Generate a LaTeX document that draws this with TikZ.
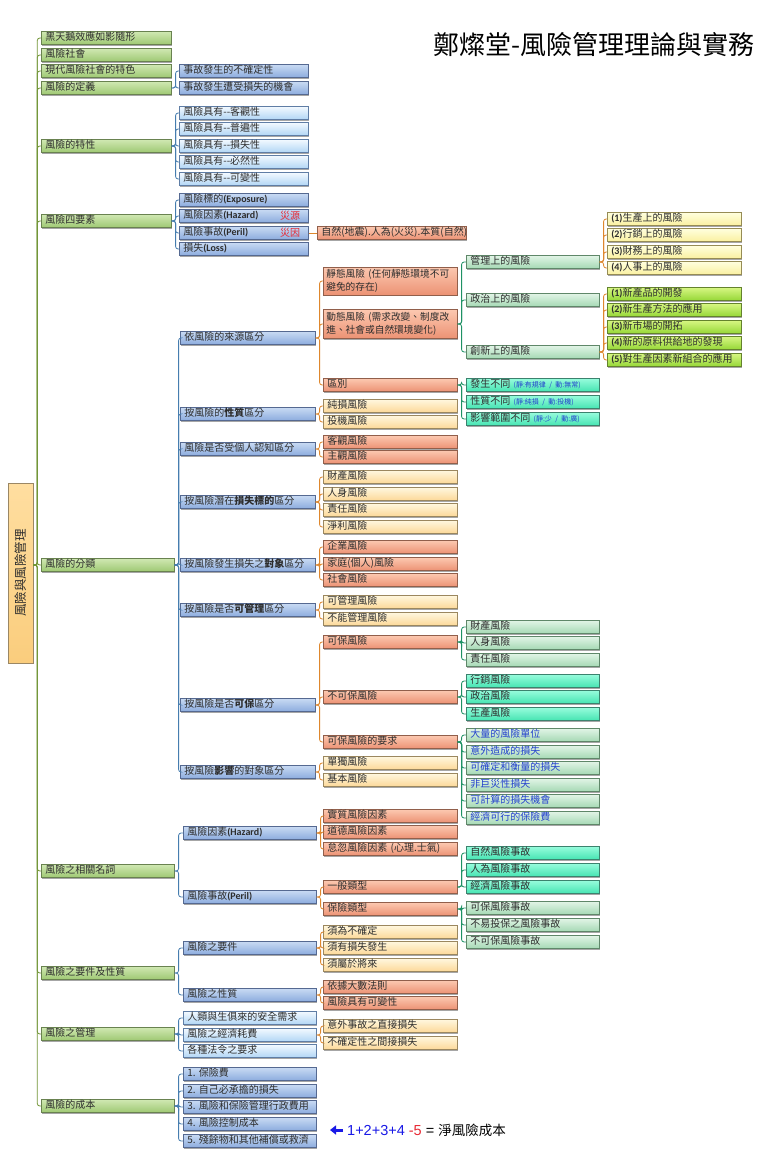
\documentclass[tikz,border=0pt]{standalone}
\usepackage{fontspec}
\usepackage{graphicx}
\setmainfont{Noto Sans CJK TC}
\newfontfamily\lat{Carlito}
\newfontfamily\arl{Liberation Sans}
\usetikzlibrary{shadows,arrows.meta}
\frenchspacing
\definecolor{txt}{RGB}{45,45,45}
\definecolor{gBd}{RGB}{105,130,80}
\definecolor{gT}{RGB}{208,232,178}
\definecolor{gB}{RGB}{158,200,115}
\definecolor{bBd}{RGB}{85,105,145}
\definecolor{bT}{RGB}{200,218,243}
\definecolor{bB}{RGB}{140,172,222}
\definecolor{lbBd}{RGB}{95,125,165}
\definecolor{lbT}{RGB}{242,249,255}
\definecolor{lbB}{RGB}{178,214,245}
\definecolor{sBd}{RGB}{145,95,75}
\definecolor{sT}{RGB}{252,200,176}
\definecolor{sB}{RGB}{236,146,116}
\definecolor{pBd}{RGB}{155,135,95}
\definecolor{pT}{RGB}{255,247,222}
\definecolor{pB}{RGB}{252,216,152}
\definecolor{mBd}{RGB}{95,135,105}
\definecolor{mT}{RGB}{225,244,230}
\definecolor{mB}{RGB}{165,217,180}
\definecolor{yBd}{RGB}{150,140,85}
\definecolor{yT}{RGB}{255,255,222}
\definecolor{yB}{RGB}{250,240,160}
\definecolor{limBd}{RGB}{100,130,45}
\definecolor{limT}{RGB}{214,246,130}
\definecolor{limB}{RGB}{150,215,55}
\definecolor{aBd}{RGB}{60,130,110}
\definecolor{aT}{RGB}{150,252,220}
\definecolor{aB}{RGB}{70,228,178}
\definecolor{rBd}{RGB}{155,135,100}
\definecolor{rT}{RGB}{255,222,160}
\definecolor{rB}{RGB}{250,205,125}
\definecolor{cTr}{RGB}{115,150,55}
\definecolor{cBl}{RGB}{70,125,175}
\definecolor{cOr}{RGB}{222,135,45}
\definecolor{cGr}{RGB}{30,145,100}
\definecolor{blu}{RGB}{35,65,205}
\definecolor{blu2}{RGB}{25,25,230}
\definecolor{redl}{RGB}{232,40,50}
\newcommand\lb[1]{{\lat\bfseries #1}}
\newcommand\sm[1]{{\fontsize{7}{8}\selectfont\color{blu}#1}}
\tikzset{
 bx/.style={rectangle, anchor=west, draw=#1, line width=0.6pt, inner xsep=4pt, inner ysep=0pt,
   minimum height=13pt, text height=7.6pt, text depth=2.4pt, align=left, text=txt,
   font=\fontsize{10}{12}\selectfont,
   drop shadow={shadow xshift=0.9pt, shadow yshift=-1.3pt, opacity=0.35, fill=black}},
 G/.style={bx=gBd, top color=gT, bottom color=gB},
 B/.style={bx=bBd, top color=bT, bottom color=bB},
 LB/.style={bx=lbBd, top color=lbT, bottom color=lbB},
 S/.style={bx=sBd, top color=sT, bottom color=sB},
 P/.style={bx=pBd, top color=pT, bottom color=pB},
 M/.style={bx=mBd, top color=mT, bottom color=mB},
 Y/.style={bx=yBd, top color=yT, bottom color=yB},
 LM/.style={bx=limBd, top color=limT, bottom color=limB},
 A/.style={bx=aBd, top color=aT, bottom color=aB},
 two/.style={text height=, text depth=, minimum height=#1pt, inner ysep=2pt, inner xsep=3pt,
   text width=128pt, font=\fontsize{9.7}{12.5}\selectfont},
 W1/.style={text width=122pt},
 W1b/.style={text width=125pt},
 W2a/.style={text width=121pt},
 W2b/.style={text width=127pt},
 W2c/.style={text width=125pt},
 W3/.style={text width=126pt},
 WN/.style={text width=141pt},
 W4/.style={text width=125pt},
 W5/.style={text width=126pt},
 cn/.style={line width=0.8pt, rounded corners=2.5pt},
}
\newcommand\myfan[3]{\foreach \c in {#3} \draw[cn,#1] (#2.east) -- ++(4,0) |- (\c.west);}
\begin{document}
\begin{tikzpicture}[x=1pt,y=-1pt]
\useasboundingbox (0,0) rectangle (757,1159);
\fill[white] (0,0) rectangle (757,1159);

\node[font=\fontsize{26}{29}\selectfont, anchor=east, text=black, inner sep=0pt] (title) at (755,45) {鄭燦堂-風險管理理論與實務};

\node[rectangle, draw=rBd, line width=0.6pt, top color=rT, bottom color=rB, minimum width=25pt, minimum height=180pt, inner sep=0pt, text=txt,
  drop shadow={shadow xshift=0.9pt, shadow yshift=-1.3pt, opacity=0.35, fill=black}] (root) at (20.5,573) {\rotatebox{90}{\fontsize{12.5}{14}\selectfont 風險與風險管理}};

% level 1
\node[G,W1] (a1) at (41,38) {黑天鵝效應如影隨形};
\node[G,W1] (a2) at (41,55) {風險社會};
\node[G,W1] (a3) at (41,71) {現代風險社會的特色};
\node[G,W1] (a4) at (41,88) {風險的定義};
\node[G,W1] (a5) at (41,146) {風險的特性};
\node[G,W1] (a6) at (41,221) {風險四要素};
\node[G,W1b] (a7) at (41,565) {風險的分類};
\node[G,W1b] (a8) at (41,871) {風險之相關名詞};
\node[G,W1b] (a9) at (41,973) {風險之要件及性質};
\node[G,W1b] (a10) at (41,1034) {風險之管理};
\node[G,W1b] (a11) at (41,1106) {風險的成本};

% definition
\node[B,W2a] (d1) at (179,71) {事故發生的不確定性};
\node[B,W2a] (d2) at (179,88) {事故發生遭受損失的機會};
% characteristics
\node[LB,W2a] (t1) at (179,113) {風險具有-{}-客觀性};
\node[LB,W2a] (t2) at (179,129) {風險具有-{}-普遍性};
\node[LB,W2a] (t3) at (179,146) {風險具有-{}-損失性};
\node[LB,W2a] (t4) at (179,162) {風險具有-{}-必然性};
\node[LB,W2a] (t5) at (179,179) {風險具有-{}-可變性};
% four elements
\node[B,W2a] (f1) at (179,200) {風險標的\lb{(Exposure)}};
\node[B,W2a] (f2) at (179,216) {風險因素\lb{(Hazard)}};
\node[B,W2a] (f3) at (179,233) {風險事故\lb{(Peril)}};
\node[B,W2a] (f4) at (179,249) {損失\lb{(Loss)}};
\node[anchor=west, inner sep=0pt, text=redl, font=\fontsize{10}{12}\selectfont] (zy) at (280,216) {災源};
\node[anchor=west, inner sep=0pt, text=redl, font=\fontsize{10}{12}\selectfont] (zi) at (280,233) {災因};
\node[S,WN] (nat) at (317,233) {自然(地震).人為(火災).本質(自然)};

% classification level 2
\node[B,W2b] (c1) at (180,338) {依風險的來源區分};
\node[B,W2b] (c2) at (180,414) {按風險的\textbf{性質}區分};
\node[B,W2b] (c3) at (180,449) {風險是否受個人認知區分};
\node[B,W2b] (c4) at (180,502) {按風險潛在\textbf{損失標的}區分};
\node[B,W2b] (c5) at (180,565) {按風險發生損失之\textbf{對象}區分};
\node[B,W2b] (c6) at (180,610) {按風險是否\textbf{可管理}區分};
\node[B,W2b] (c7) at (180,705) {按風險是否\textbf{可保}區分};
\node[B,W2b] (c8) at (180,772) {按風險\textbf{影響}的對象區分};

% classification level 3
\node[S,two=28] (s1) at (323,281) {靜態風險 (任何靜態環境不可\\避免的存在)};
\node[S,two=29] (s2) at (323,324) {動態風險 (需求改變、制度改\\進、社會或自然環境變化)};
\node[S,W3] (s3) at (323,385) {區別};
\node[P,W3] (n1) at (323,406) {純損風險};
\node[P,W3] (n2) at (323,422) {投機風險};
\node[S,W3] (p1) at (323,442) {客觀風險};
\node[S,W3] (p2) at (323,457) {主觀風險};
\node[P,W3] (q1) at (323,477) {財產風險};
\node[P,W3] (q2) at (323,494) {人身風險};
\node[P,W3] (q3) at (323,510) {責任風險};
\node[P,W3] (q4) at (323,527) {淨利風險};
\node[S,W3] (r1) at (323,547) {企業風險};
\node[S,W3] (r2) at (323,564) {家庭(個人)風險};
\node[S,W3] (r3) at (323,580) {社會風險};
\node[P,W3] (m1) at (323,602) {可管理風險};
\node[P,W3] (m2) at (323,619) {不能管理風險};
\node[S,W3] (i1) at (323,642) {可保風險};
\node[S,W3] (i2) at (323,697) {不可保風險};
\node[S,W3] (i3) at (323,742) {可保風險的要求};
\node[P,W3] (o1) at (323,763) {單獨風險};
\node[P,W3] (o2) at (323,780) {基本風險};

% level 4
\node[M,W4] (g1) at (466,262) {管理上的風險};
\node[M,W4] (g2) at (466,300) {政治上的風險};
\node[M,W4] (g3) at (466,352) {創新上的風險};
\node[A,W4] (k1) at (466,385) {發生不同 \sm{(靜:有規律 / 動:無常)}};
\node[A,W4] (k2) at (466,402) {性質不同 \sm{(靜:純損 / 動:投機)}};
\node[A,W4] (k3) at (466,419) {影響範圍不同 \sm{(靜:少 / 動:廣)}};
\node[M,W4] (h1) at (466,627) {財產風險};
\node[M,W4] (h2) at (466,643) {人身風險};
\node[M,W4] (h3) at (466,660) {責任風險};
\node[A,W4] (u1) at (466,681) {行銷風險};
\node[A,W4] (u2) at (466,697) {政治風險};
\node[A,W4] (u3) at (466,714) {生產風險};
\node[M,W4,text=blu] (v1) at (466,735) {大量的風險單位};
\node[M,W4,text=blu] (v2) at (466,752) {意外造成的損失};
\node[M,W4,text=blu] (v3) at (466,768) {可確定和衡量的損失};
\node[M,W4,text=blu] (v4) at (466,785) {非巨災性損失};
\node[M,W4,text=blu] (v5) at (466,801) {可計算的損失機會};
\node[M,W4,text=blu] (v6) at (466,818) {經濟可行的保險費};

% level 5
\node[Y,W5] (y1) at (607,219) {\lb{(1)}生產上的風險};
\node[Y,W5] (y2) at (607,235) {\lb{(2)}行銷上的風險};
\node[Y,W5] (y3) at (607,252) {\lb{(3)}財務上的風險};
\node[Y,W5] (y4) at (607,268) {\lb{(4)}人事上的風險};
\node[LM,W5] (z1) at (607,294) {\lb{(1)}新產品的開發};
\node[LM,W5] (z2) at (607,310) {\lb{(2)}新生產方法的應用};
\node[LM,W5] (z3) at (607,327) {\lb{(3)}新市場的開拓};
\node[LM,W5] (z4) at (607,343) {\lb{(4)}新的原料供給地的發現};
\node[LM,W5] (z5) at (607,360) {\lb{(5)}對生產因素新組合的應用};

% related terms
\node[B,W2c] (hh) at (183,833) {風險因素\lb{(Hazard)}};
\node[B,W2c] (pp) at (183,897) {風險事故\lb{(Peril)}};
\node[S,W3] (hz1) at (323,816) {實質風險因素};
\node[S,W3] (hz2) at (323,832) {道德風險因素};
\node[S,W3] (hz3) at (323,849) {怠忽風險因素 (心理.士氣)};
\node[S,W3] (pe1) at (323,887) {一般類型};
\node[S,W3] (pe2) at (323,909) {保險類型};
\node[A,W4] (ge1) at (466,853) {自然風險事故};
\node[A,W4] (ge2) at (466,870) {人為風險事故};
\node[A,W4] (ge3) at (466,887) {經濟風險事故};
\node[M,W4] (ie1) at (466,908) {可保風險事故};
\node[M,W4] (ie2) at (466,925) {不易投保之風險事故};
\node[M,W4] (ie3) at (466,942) {不可保風險事故};

% requirements
\node[B,W2c] (e1) at (183,948) {風險之要件};
\node[B,W2c] (e2) at (183,995) {風險之性質};
\node[P,W3] (ea1) at (323,932) {須為不確定};
\node[P,W3] (ea2) at (323,948) {須有損失發生};
\node[P,W3] (ea3) at (323,965) {須屬於將來};
\node[S,W3] (eb1) at (323,987) {依據大數法則};
\node[S,W3] (eb2) at (323,1003) {風險具有可變性};

% management
\node[LB,W2c] (mg1) at (183,1018) {人類與生俱來的安全需求};
\node[LB,W2c] (mg2) at (183,1035) {風險之經濟耗費};
\node[LB,W2c] (mg3) at (183,1051) {各種法令之要求};
\node[P,W3] (ms1) at (323,1026) {意外事故之直接損失};
\node[P,W3] (ms2) at (323,1043) {不確定性之間接損失};

% cost
\node[B,W2c] (co1) at (183,1074) {1. 保險費};
\node[B,W2c] (co2) at (183,1091) {2. 自己必承擔的損失};
\node[B,W2c] (co3) at (183,1107) {3. 風險和保險管理行政費用};
\node[B,W2c] (co4) at (183,1124) {4. 風險控制成本};
\node[B,W2c] (co5) at (183,1141) {5. 殘餘物和其他補償或救濟};

\node[anchor=west, inner sep=0pt, font=\arl\fontsize{14.5}{16}\selectfont] (ann) at (347,1130)
  {\textcolor{blu2}{1+2+3+4} \textcolor{redl}{-5} = {\rmfamily\fontsize{13.5}{15}\selectfont 淨風險成本}};
\draw[blu2, line width=3pt, -{Triangle[length=6pt,width=9pt]}] ([xshift=-4pt]ann.west) -- ([xshift=-17pt]ann.west);

% connectors
\foreach \c in {a1,a2,a3,a4,a5,a6,a7,a8,a9,a10,a11}
  \draw[cn,cTr] (root.east |- a7.west) -- ++(4,0) |- (\c.west);
\myfan{cBl}{a4}{d1,d2}
\myfan{cBl}{a5}{t1,t2,t3,t4,t5}
\myfan{cBl}{a6}{f1,f2,f3,f4}
\draw[cn,cOr] (f3.east) -- (nat.west);
\myfan{cBl}{a7}{c1,c2,c3,c4,c5,c6,c7,c8}
\myfan{cOr}{c1}{s1,s2,s3}
\myfan{cOr}{c2}{n1,n2}
\myfan{cOr}{c3}{p1,p2}
\myfan{cOr}{c4}{q1,q2,q3,q4}
\myfan{cOr}{c5}{r1,r2,r3}
\myfan{cOr}{c6}{m1,m2}
\myfan{cOr}{c7}{i1,i2,i3}
\myfan{cOr}{c8}{o1,o2}
\myfan{cGr}{s2}{g1,g2,g3}
\myfan{cGr}{s3}{k1,k2,k3}
\myfan{cOr}{g1}{y1,y2,y3,y4}
\myfan{cOr}{g3}{z1,z2,z3,z4,z5}
\myfan{cGr}{i1}{h1,h2,h3}
\myfan{cGr}{i2}{u1,u2,u3}
\myfan{cGr}{i3}{v1,v2,v3,v4,v5,v6}
\myfan{cBl}{a8}{hh,pp}
\myfan{cOr}{hh}{hz1,hz2,hz3}
\myfan{cOr}{pp}{pe1,pe2}
\myfan{cGr}{pe1}{ge1,ge2,ge3}
\myfan{cGr}{pe2}{ie1,ie2,ie3}
\myfan{cBl}{a9}{e1,e2}
\myfan{cOr}{e1}{ea1,ea2,ea3}
\myfan{cOr}{e2}{eb1,eb2}
\myfan{cBl}{a10}{mg1,mg2,mg3}
\myfan{cOr}{mg2}{ms1,ms2}
\myfan{cBl}{a11}{co1,co2,co3,co4,co5}
\end{tikzpicture}
\end{document}
